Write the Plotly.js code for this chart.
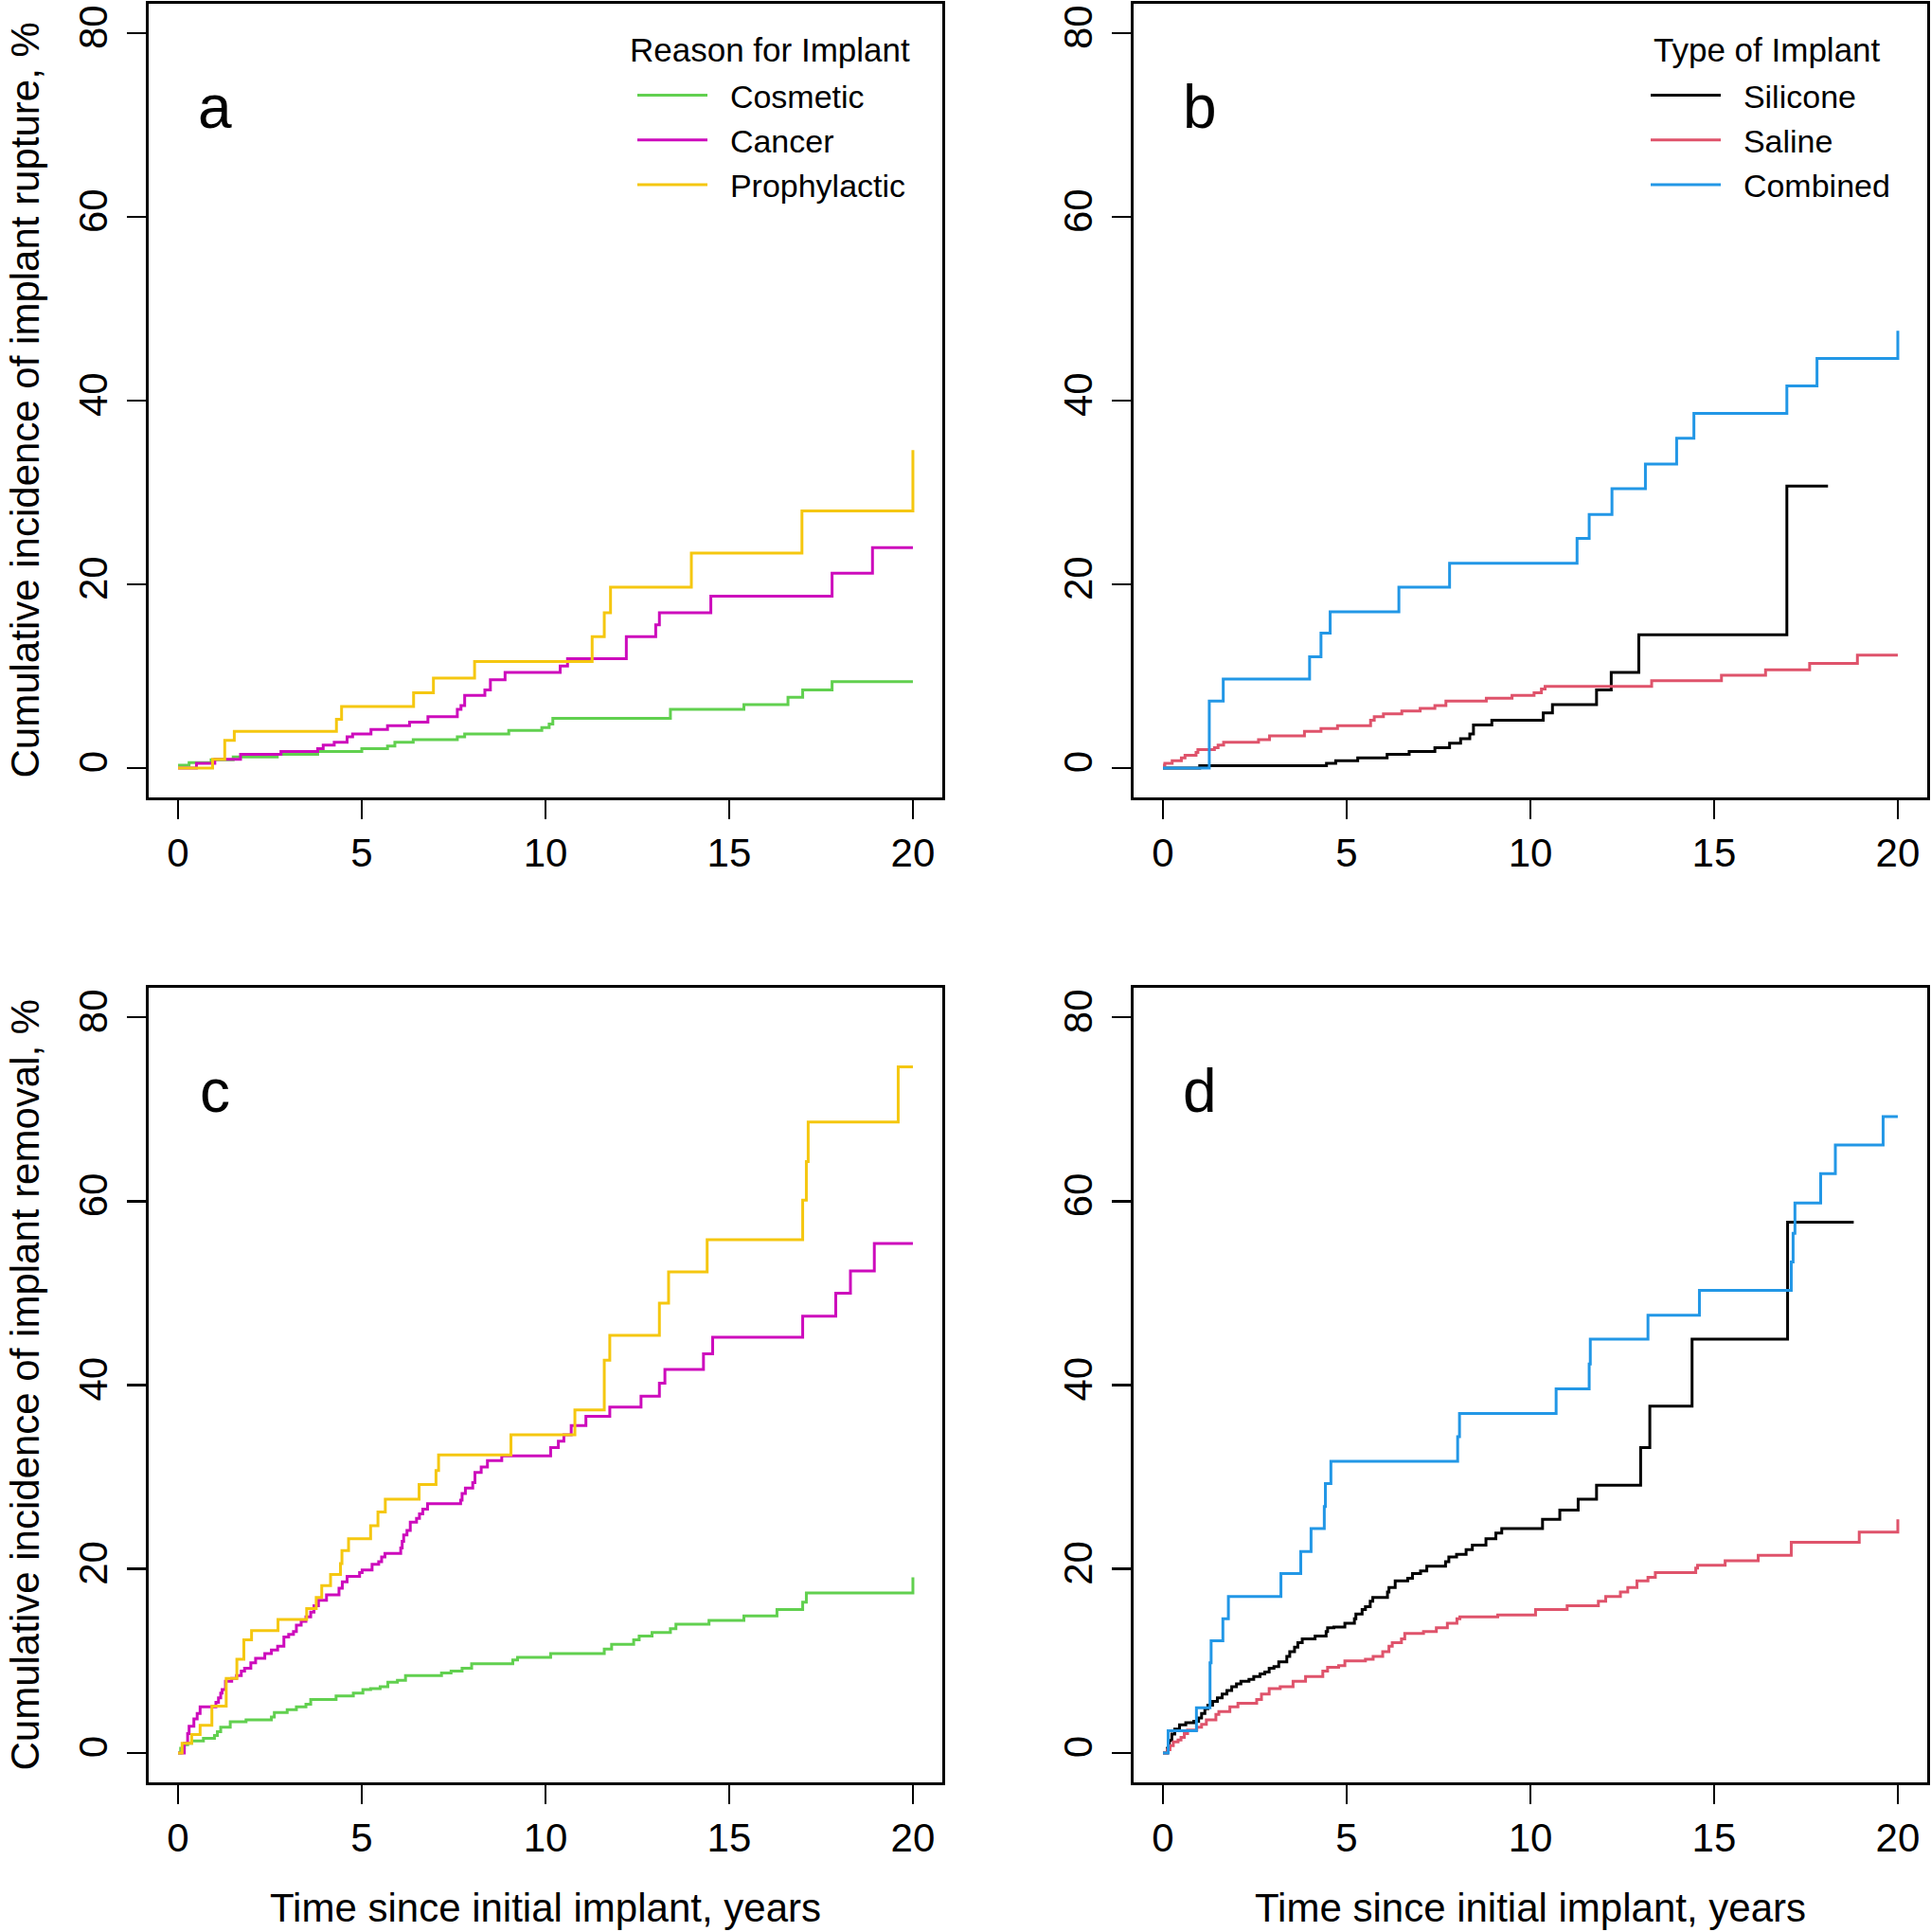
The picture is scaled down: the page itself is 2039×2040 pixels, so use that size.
<!DOCTYPE html>
<html>
<head>
<meta charset="utf-8">
<script src="https://cdn.plot.ly/plotly-3.0.1.min.js"></script>
<style>html,body{margin:0;padding:0;background:#fff}#chart{width:2039px;height:2040px}</style>
</head>
<body>
<div id="chart"></div>
<script>
// ---------- data (years, cumulative incidence %) ----------
// Panel a: rupture by reason for implant
const cosmeticRuptureT = [0,0.3,0.9,1.5,2.7,3.8,5.0,5.7,5.9,6.4,7.6,7.8,9.0,9.9,10.1,10.2,13.4,15.4,16.6,17.0,17.8,20];
const cosmeticRuptureV = [0.3,0.6,0.9,1.2,1.5,1.8,2.1,2.4,2.8,3.1,3.4,3.7,4.1,4.4,4.8,5.4,6.4,6.9,7.7,8.5,9.4,9.4];
const cancerRuptureT = [0,0.5,1.0,1.7,2.8,3.8,3.95,4.25,4.6,4.75,5.25,5.7,6.3,6.8,7.6,7.7,7.8,8.35,8.5,8.9,10.4,10.6,12.2,13.0,13.1,14.5,17.8,18.9,20];
const cancerRuptureV = [0,0.5,0.95,1.5,1.8,2.1,2.5,2.8,3.4,3.7,4.2,4.6,5.0,5.6,6.4,6.8,7.9,8.5,9.6,10.4,11.1,11.9,14.3,15.6,16.9,18.7,21.2,24.0,24.0];
const prophylacticRuptureT = [0,0.94,1.27,1.53,4.31,4.45,6.41,6.95,8.07,11.27,11.6,11.77,13.97,16.98,20];
const prophylacticRuptureV = [0,0.95,3.0,4.0,5.3,6.7,8.2,9.8,11.6,14.3,16.9,19.7,23.4,28.0,34.6];
// Panel b: rupture by type of implant
const siliconeRuptureT = [0,1.0,4.45,4.7,5.3,6.1,6.7,7.4,7.8,8.1,8.35,8.45,8.95,10.35,10.6,11.8,12.2,12.95,16.98,18.1];
const siliconeRuptureV = [0,0.25,0.5,0.8,1.1,1.5,1.8,2.2,2.7,3.2,3.7,4.7,5.2,6.0,6.9,8.5,10.4,14.5,30.7,30.7];
const salineRuptureT = [0,0.05,0.25,0.5,0.6,0.9,0.95,1.4,1.5,1.65,2.6,2.9,3.85,4.3,4.75,5.65,5.75,6.0,6.5,7.0,7.4,7.7,8.8,9.5,10.1,10.3,10.4,13.3,15.2,16.4,17.6,18.9,20];
const salineRuptureV = [0.3,0.5,0.8,1.1,1.4,1.7,2.0,2.2,2.5,2.8,3.1,3.5,4.0,4.3,4.6,5.2,5.6,5.9,6.2,6.5,6.8,7.3,7.6,7.9,8.2,8.6,8.9,9.5,10.1,10.7,11.4,12.3,12.3];
const combinedRuptureT = [0,1.26,1.64,3.99,4.3,4.55,6.42,7.8,11.27,11.6,12.22,13.13,13.98,14.45,16.98,17.8,20];
const combinedRuptureV = [0,7.3,9.7,12.1,14.7,17.0,19.7,22.3,25.0,27.6,30.4,33.1,35.9,38.6,41.6,44.6,47.6];
// Panel c: removal by reason for implant
const cosmeticRemovalT = [0,0.07,0.17,0.26,0.37,0.69,0.99,1.07,1.16,1.42,
  1.85,2.54,2.62,2.97,3.22,3.48,3.61,4.30,4.77,5.03,
  5.24,5.50,5.71,5.97,6.19,7.17,7.43,7.73,7.99,9.11,
  9.24,10.14,11.6,11.8,12.4,12.55,12.9,13.4,13.55,14.45,
  15.4,16.3,17.0,17.1,20];
const cosmeticRemovalV = [0,0.5,0.9,1.05,1.3,1.6,1.9,2.3,2.8,3.4,
  3.6,3.9,4.4,4.7,5.0,5.3,5.8,6.2,6.5,6.9,
  7.0,7.2,7.7,7.9,8.4,8.7,8.9,9.2,9.7,10.1,
  10.4,10.8,11.3,11.8,12.3,12.7,13.1,13.5,14.0,14.4,
  14.9,15.6,16.4,17.4,19.1];
const cancerRemovalT = [0,0.17,0.26,0.30,0.43,0.52,0.60,1.03,1.10,1.16,
  1.20,1.29,1.46,1.59,1.72,1.81,1.98,2.11,2.36,2.54,
  2.71,2.88,3.01,3.14,3.22,3.35,3.48,3.61,3.70,3.82,
  4.04,4.38,4.47,4.60,4.94,5.01,5.28,5.46,5.54,5.63,
  6.06,6.10,6.14,6.23,6.32,6.49,6.57,6.66,6.79,7.69,
  7.73,7.82,8.02,8.08,8.25,8.42,8.81,10.14,10.35,10.5,
  10.7,11.1,11.75,12.6,13.1,13.25,14.3,14.55,17.0,17.9,
  18.3,18.95,20];
const cancerRemovalV = [0,1.05,2.1,2.9,3.7,4.3,5.0,5.5,6.0,6.5,
  6.9,7.8,8.1,8.4,8.9,9.2,9.8,10.3,10.8,11.2,
  11.6,12.6,12.9,13.2,13.9,14.3,14.8,15.3,16.0,16.6,
  17.2,17.9,18.6,19.2,19.6,19.9,20.5,20.8,21.3,21.7,
  22.3,23.0,23.7,24.2,25.1,25.5,26.0,26.5,27.1,27.5,
  28.2,28.8,29.4,30.5,31.1,31.8,32.3,33.2,33.9,34.6,
  35.6,36.6,37.6,38.8,40.2,41.7,43.4,45.2,47.5,50.0,
  52.4,55.4,55.4];
const prophylacticRemovalT = [0,0.11,0.37,0.6,0.92,1.31,1.6,1.79,2.0,2.72,
  3.5,3.76,3.91,4.15,4.42,4.46,4.64,5.24,5.44,5.64,
  6.56,7.02,7.09,9.06,10.8,11.6,11.75,13.1,13.35,14.4,
  17.0,17.1,17.15,19.6,20];
const prophylacticRemovalV = [0,1.05,2.0,3.0,5.1,8.1,10.2,12.3,13.3,14.5,
  15.7,16.9,18.2,19.4,20.6,22.0,23.3,24.7,26.2,27.6,
  29.2,30.7,32.4,34.6,37.3,42.7,45.4,48.9,52.3,55.8,
  60.1,64.3,68.6,74.6,74.6];
// Panel d: removal by type of implant
const siliconeRemovalT = [0,0.12,0.17,0.24,0.32,0.45,0.62,0.84,0.97,1.05,
  1.14,1.22,1.35,1.48,1.61,1.74,1.87,2.0,2.12,2.34,
  2.47,2.64,2.77,2.89,3.02,3.15,3.37,3.45,3.58,3.67,
  3.79,4.14,4.44,4.48,4.65,4.95,5.21,5.25,5.42,5.51,
  5.64,5.71,6.11,6.15,6.32,6.66,6.79,7.01,7.18,7.69,
  7.78,7.99,8.25,8.42,8.79,9.06,9.22,10.33,10.8,11.3,
  11.8,13.0,13.25,14.4,17.0,18.8];
const siliconeRemovalV = [0,0.5,1.35,2.05,2.6,3.05,3.3,3.45,3.8,4.3,
  4.8,5.2,5.6,6.0,6.4,6.8,7.2,7.5,7.8,8.0,
  8.3,8.6,8.8,9.2,9.4,9.9,10.5,11.0,11.5,12.0,
  12.4,12.7,13.2,13.6,13.7,14.1,14.6,15.1,15.6,15.9,
  16.5,16.9,17.5,18.0,18.7,19.0,19.5,19.8,20.3,20.8,
  21.3,21.6,22.1,22.6,23.3,23.9,24.4,25.4,26.4,27.6,
  29.1,33.2,37.7,45.0,57.7,57.7];
const salineRemovalT = [0,0.12,0.19,0.28,0.41,0.49,0.58,0.67,0.92,1.05,
  1.18,1.44,1.52,1.82,2.04,2.55,2.68,2.89,3.19,3.54,
  3.88,4.35,4.48,4.78,4.95,5.51,5.72,5.98,6.15,6.24,
  6.49,6.58,7.09,7.44,7.74,8.0,8.08,9.11,10.14,11.0,
  11.85,12.05,12.45,12.65,12.9,13.2,13.4,14.5,14.55,15.3,
  16.2,17.1,18.95,20];
const salineRemovalV = [0,0.35,0.8,1.2,1.4,1.7,2.1,2.5,2.8,3.1,
  3.6,4.2,4.5,5.0,5.4,5.8,6.4,7.0,7.2,7.8,
  8.3,8.9,9.3,9.5,10.0,10.2,10.5,11.0,11.6,12.0,
  12.4,13.0,13.2,13.6,14.1,14.6,14.8,15.0,15.6,16.0,
  16.5,17.0,17.5,18.0,18.7,19.1,19.6,20.1,20.4,20.9,
  21.5,22.9,24.0,25.4];
const combinedRemovalT = [0,0.14,0.91,1.28,1.31,1.63,1.78,3.21,3.75,4.03,4.39,4.42,4.57,8.02,8.07,10.7,11.6,11.63,13.2,14.6,17.1,17.15,17.2,17.9,18.3,19.6,20];
const combinedRemovalV = [0,2.4,4.9,9.8,12.2,14.6,17.0,19.5,21.9,24.4,26.8,29.3,31.7,34.4,36.9,39.6,42.3,45.0,47.6,50.3,53.4,56.5,59.8,63.0,66.1,69.2,69.2];

const reasonNames = ["Cosmetic","Cancer","Prophylactic"];
const typeNames = ["Silicone","Saline","Combined"];
const reasonTitle = "Reason for Implant";
const typeTitle = "Type of Implant";
const xTicks = [0,5,10,15,20];
const yTicks = [0,20,40,60,80];
const panelLetters = ["a","b","c","d"];
const ruptureTitle = "Cumulative incidence of implant rupture, %";
const removalTitle = "Cumulative incidence of implant removal, %";
const timeTitle = "Time since initial implant, years";

// ---------- styling ----------
const FONT = "Liberation Sans, Arial, Helvetica, sans-serif";
const colReason = ["#61D04F","#CD0BBC","#F5C710"];
const colType = ["#000000","#DF536B","#2297E6"];
const W = 2039, H = 2040;
const colL = [157/W, 995/W], colR = [1197/W, 2035/W];
const rowT = [1-842/H, 1-4/H], rowB = [1-1882/H, 1-1043/H];
const GAP = "\u00A0\u00A0";

function step(t, v, name, color, xa, ya, legend, show){
  return {x:t, y:v, type:"scatter", mode:"lines", line:{shape:"hv", color:color, width:3},
          name:GAP + name, xaxis:xa, yaxis:ya, legend:legend, showlegend:show, hoverinfo:"skip"};
}
const traces = [
  step(cosmeticRuptureT, cosmeticRuptureV, reasonNames[0], colReason[0], "x","y","legend",true),
  step(cancerRuptureT, cancerRuptureV, reasonNames[1], colReason[1], "x","y","legend",true),
  step(prophylacticRuptureT, prophylacticRuptureV, reasonNames[2], colReason[2], "x","y","legend",true),
  step(siliconeRuptureT, siliconeRuptureV, typeNames[0], colType[0], "x2","y2","legend2",true),
  step(salineRuptureT, salineRuptureV, typeNames[1], colType[1], "x2","y2","legend2",true),
  step(combinedRuptureT, combinedRuptureV, typeNames[2], colType[2], "x2","y2","legend2",true),
  step(cosmeticRemovalT, cosmeticRemovalV, reasonNames[0], colReason[0], "x3","y3","legend",false),
  step(cancerRemovalT, cancerRemovalV, reasonNames[1], colReason[1], "x3","y3","legend",false),
  step(prophylacticRemovalT, prophylacticRemovalV, reasonNames[2], colReason[2], "x3","y3","legend",false),
  step(siliconeRemovalT, siliconeRemovalV, typeNames[0], colType[0], "x4","y4","legend2",false),
  step(salineRemovalT, salineRemovalV, typeNames[1], colType[1], "x4","y4","legend2",false),
  step(combinedRemovalT, combinedRemovalV, typeNames[2], colType[2], "x4","y4","legend2",false)
];

function xax(domain, anchor){
  return {domain:domain, anchor:anchor, range:[-0.8,20.8], tickmode:"array", tickvals:xTicks,
    ticktext:xTicks.map(String), ticks:"outside", ticklen:20, tickwidth:2.5, tickcolor:"#000",
    showline:true, mirror:true, linewidth:3, linecolor:"#000", showgrid:false, zeroline:false,
    tickfont:{family:FONT, size:42, color:"#000"}, fixedrange:true};
}
function yax(domain, anchor){
  return {domain:domain, anchor:anchor, range:[-3.2,83.2], tickmode:"array", tickvals:yTicks,
    ticktext:yTicks.map(String), ticks:"outside", ticklen:20, tickwidth:2.5, tickcolor:"#000",
    tickangle:-90, ticklabelstandoff:4, showline:true, mirror:true, linewidth:3, linecolor:"#000",
    showgrid:false, zeroline:false, tickfont:{family:FONT, size:42, color:"#000"}, fixedrange:true};
}

const annotations = [];
[["x","y"],["x2","y2"],["x3","y3"],["x4","y4"]].forEach((p,i)=>{
  annotations.push({xref:p[0], yref:p[1], x:1.0, y:72, text:panelLetters[i], showarrow:false,
    font:{family:FONT, size:64, color:"#000"}, xanchor:"center", yanchor:"middle"});
});
annotations.push({xref:"paper", yref:"paper", x:0, y:1-423/H, text:ruptureTitle, textangle:-90,
  showarrow:false, font:{family:FONT, size:42, color:"#000"}, xanchor:"left", yanchor:"middle"});
annotations.push({xref:"paper", yref:"paper", x:0, y:1-1462/H, text:removalTitle, textangle:-90,
  showarrow:false, font:{family:FONT, size:42, color:"#000"}, xanchor:"left", yanchor:"middle"});
annotations.push({xref:"paper", yref:"paper", x:576/W, y:1-2014/H, text:timeTitle,
  showarrow:false, font:{family:FONT, size:42, color:"#000"}, xanchor:"center", yanchor:"middle"});
annotations.push({xref:"paper", yref:"paper", x:1616/W, y:1-2014/H, text:timeTitle,
  showarrow:false, font:{family:FONT, size:42, color:"#000"}, xanchor:"center", yanchor:"middle"});
annotations.push({xref:"paper", yref:"paper", x:813/W, y:1-52/H, text:reasonTitle,
  showarrow:false, font:{family:FONT, size:35, color:"#000"}, xanchor:"center", yanchor:"middle"});
annotations.push({xref:"paper", yref:"paper", x:1866/W, y:1-52/H, text:typeTitle,
  showarrow:false, font:{family:FONT, size:35, color:"#000"}, xanchor:"center", yanchor:"middle"});

const legendBase = {bgcolor:"rgba(0,0,0,0)", borderwidth:0, font:{family:FONT, size:34, color:"#000"},
  xanchor:"left", yanchor:"top", itemwidth:74, itemclick:false, itemdoubleclick:false};

const layout = {
  width:W, height:H, margin:{l:0,r:0,t:0,b:0}, paper_bgcolor:"#fff", plot_bgcolor:"#fff",
  font:{family:FONT, color:"#000"},
  xaxis:xax(colL,"y"), yaxis:yax(rowT,"x"),
  xaxis2:xax(colR,"y2"), yaxis2:yax(rowT,"x2"),
  xaxis3:xax(colL,"y3"), yaxis3:yax(rowB,"x3"),
  xaxis4:xax(colR,"y4"), yaxis4:yax(rowB,"x4"),
  legend:Object.assign({}, legendBase, {x:668/W, y:1-72/H}),
  legend2:Object.assign({}, legendBase, {x:1738/W, y:1-72/H}),
  annotations:annotations,
  showlegend:true
};

Plotly.newPlot("chart", traces, layout, {staticPlot:true, displayModeBar:false});
</script>
</body>
</html>
